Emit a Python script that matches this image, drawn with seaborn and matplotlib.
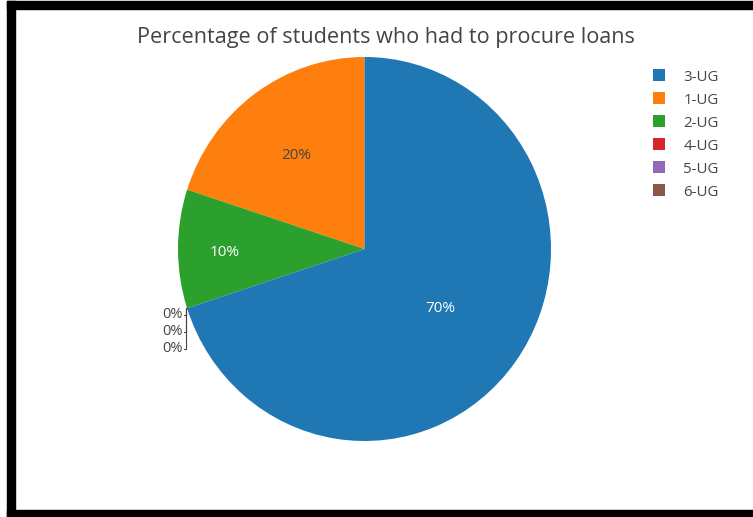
import numpy as np
import matplotlib
matplotlib.use("Agg")
import matplotlib.pyplot as plt
from matplotlib.patches import Patch, Rectangle
import seaborn as sns

sns.set_theme(style="white")
plt.rcParams["font.family"] = ["Open Sans", "DejaVu Sans"]

# Data: share of students who had to procure loans, by year group
groups = ["1-UG", "2-UG", "4-UG", "5-UG", "6-UG", "3-UG"]
shares = [20, 10, 0, 0, 0, 70]
legend_order = ["3-UG", "1-UG", "2-UG", "4-UG", "5-UG", "6-UG"]

palette = sns.color_palette("tab10")
group_colors = {
    "3-UG": palette[0], "1-UG": palette[1], "2-UG": palette[2],
    "4-UG": palette[3], "5-UG": palette[4], "6-UG": palette[5],
}
text_color = "#444444"

W, H = 753, 517
fig = plt.figure(figsize=(W / 100, H / 100), dpi=100)

# pie area (pixels): centre (364.5, 249), radii 186.5 x 192
cx, cy, rx, ry = 364.5, 249, 186.5, 192
ax = fig.add_axes([(cx - rx) / W, (H - cy - ry) / H, 2 * rx / W, 2 * ry / H])

wedges, _ = ax.pie(shares, colors=[group_colors[g] for g in groups],
                   startangle=90, counterclock=True, radius=1,
                   wedgeprops=dict(linewidth=0))
ax.set_aspect("auto")
ax.set_xlim(-1, 1)
ax.set_ylim(-1, 1)
ax.axis("off")

total = float(sum(shares))
cum = np.cumsum([0] + shares[:-1]) / total
inside_r = {"1-UG": 0.62, "2-UG": 0.75, "3-UG": 0.5}
inside_col = {"1-UG": text_color, "2-UG": "white", "3-UG": "white"}

zero_rows = []
for g, s, c0 in zip(groups, shares, cum):
    frac = s / total
    if s > 0:
        mid = np.deg2rad(90 + (c0 + frac / 2) * 360)
        r = inside_r[g]
        ax.annotate(f"{s:.0f}%", (r * np.cos(mid), r * np.sin(mid)),
                    xytext=(0, -3), textcoords="offset pixels",
                    ha="center", va="center", fontsize=11,
                    color=inside_col[g])
    else:
        zero_rows.append((g, s, c0))

# zero-share groups: labels stacked outside the pie with leader lines
x_vert = -0.957
x_text = -0.975
label_ys = [-0.343, -0.43, -0.52]
for (g, s, c0), ly in zip(zero_rows, label_ys):
    ang = np.deg2rad(90 + c0 * 360)
    ex, ey = np.cos(ang), np.sin(ang)
    ax.plot([ex, x_vert, x_vert, x_text + 0.005], [ey, ey, ly, ly],
            color=text_color, lw=0.8, clip_on=False)
    ax.text(x_text, ly, f"{s:.0f}%", ha="right", va="center",
            fontsize=10.5, color=text_color, clip_on=False)

fig.text(386 / W, 1 - 37 / H, "Percentage of students who had to procure loans",
         ha="center", va="center", fontsize=15.6, color=text_color)

handles = [Patch(facecolor=group_colors[g], edgecolor="none") for g in legend_order]
fig.legend(handles, legend_order, loc="upper left",
           bbox_to_anchor=(639 / W, 1 - 56 / H), frameon=False,
           fontsize=10.8, handlelength=0.85, handleheight=0.85,
           handletextpad=1.2, labelspacing=0.52, labelcolor=text_color)

# black frame on left, top and bottom
for x0, y0, w, h in [(7, 0, 8, H - 1), (7, H - 9, W - 7, 8), (7, 0, W - 7, 7)]:
    fig.patches.append(Rectangle((x0 / W, y0 / H), w / W, h / H,
                                 transform=fig.transFigure, color="black",
                                 zorder=10))

fig.savefig("out.png", dpi=100)
